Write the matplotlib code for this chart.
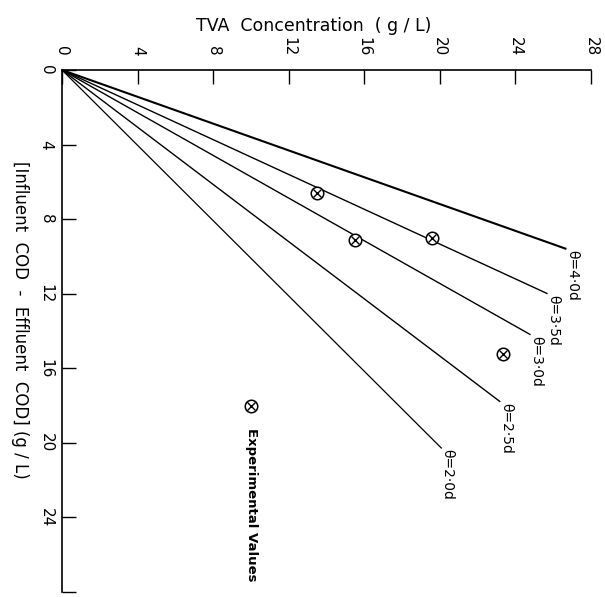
import matplotlib.pyplot as plt

# data (TVA on top axis, COD removed going down)
hrt_labels = ['θ=4·0d', 'θ=3·5d', 'θ=3·0d', 'θ=2·5d', 'θ=2·0d']
line_tva_end = [26.7, 25.7, 24.8, 23.2, 20.1]
line_cod_end = [9.6, 12.0, 14.2, 17.8, 20.3]
line_widths = [1.5, 1.0, 1.0, 1.0, 0.9]

exp_tva = [13.5, 15.5, 19.6, 23.35]
exp_cod = [6.6, 9.1, 9.0, 15.25]

ticks = [0, 4, 8, 12, 16, 20, 24, 28]

fig = plt.figure(figsize=(6.05, 5.97), dpi=100)
ax = fig.add_axes([62/605, 1 - 592/597, (591-62)/605, (592-70)/597])

for tva, cod, lab, lw in zip(line_tva_end, line_cod_end, hrt_labels, line_widths):
    ax.plot([0, tva], [0, cod], color='black', lw=lw, solid_capstyle='butt')
    ax.text(tva + 0.3, cod + 0.05, lab, rotation=-90, ha='center', va='top',
            fontsize=10)

def otimes(x, y):
    ax.plot(x, y, 'o', ms=9, mfc='white', mec='black', mew=1.1, ls='none')
    ax.plot(x, y, 'x', ms=5.5, color='black', mew=1.0, ls='none')

otimes(exp_tva, exp_cod)
otimes([10.0], [18.0])
ax.text(10.05, 19.2, 'Experimental Values', rotation=-90, ha='center', va='top',
        fontsize=9.5, fontweight='bold')

ax.set_xlim(0, 28)
ax.set_ylim(28, 0)
ax.xaxis.tick_top()
ax.set_xticks(ticks)
ax.set_yticks(ticks)
ax.set_xticklabels([str(t) for t in ticks], rotation=-90, fontsize=11)
ax.set_yticklabels([str(t) if t < 28 else '' for t in ticks], rotation=-90,
                   fontsize=11, va='center')
ax.tick_params(direction='in', length=10, width=1, colors='black', pad=6)
ax.tick_params(axis='x', pad=10)
for s in ['right', 'bottom']:
    ax.spines[s].set_visible(False)
for s in ['top', 'left']:
    ax.spines[s].set_linewidth(1.2)

fig.text(314/605, 1 - 26/597, 'TVA  Concentration  ( g / L)', ha='center',
         va='center', fontsize=12.5)
fig.text(20/605, 1 - 320/597, '[Influent  COD  -  Effluent  COD] (g / L)',
         rotation=-90, ha='center', va='center', fontsize=12)

fig.savefig('out.png', dpi=100)
